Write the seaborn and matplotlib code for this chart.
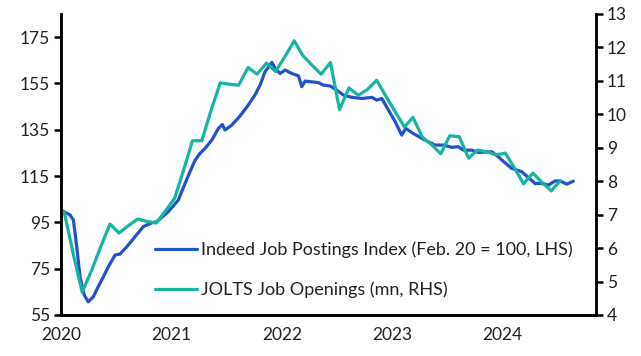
import pandas as pd
import seaborn as sns
import matplotlib.pyplot as plt
import matplotlib.dates as mdates

# Indeed job postings index (Feb. 20 = 100)
indeed_dates = [
    '2020-01-01', '2020-01-31', '2020-02-11', '2020-02-22', '2020-03-04', '2020-03-18',
    '2020-03-31', '2020-04-17', '2020-05-03', '2020-05-20', '2020-06-06', '2020-06-28',
    '2020-07-14', '2020-08-06', '2020-09-02', '2020-09-29', '2020-10-27', '2020-11-13',
    '2020-12-21', '2021-01-23', '2021-02-15', '2021-03-03', '2021-03-20', '2021-04-05',
    '2021-04-22', '2021-05-14', '2021-06-05', '2021-06-18', '2021-06-27', '2021-07-19',
    '2021-08-16', '2021-09-12', '2021-10-04', '2021-10-21', '2021-11-06', '2021-11-29',
    '2021-12-10', '2021-12-26', '2022-01-12', '2022-02-03', '2022-02-25', '2022-03-08',
    '2022-03-19', '2022-04-10', '2022-05-02', '2022-05-18', '2022-06-10', '2022-07-02',
    '2022-07-24', '2022-08-21', '2022-09-23', '2022-10-26', '2022-11-11', '2022-11-28',
    '2022-12-20', '2023-01-11', '2023-02-02', '2023-02-15', '2023-03-12', '2023-04-09',
    '2023-05-01', '2023-05-23', '2023-06-20', '2023-07-18', '2023-08-08', '2023-08-25',
    '2023-09-22', '2023-10-14', '2023-11-27', '2023-12-19', '2024-01-10', '2024-02-01',
    '2024-03-05', '2024-03-27', '2024-04-18', '2024-05-11', '2024-06-01', '2024-06-24',
    '2024-07-10', '2024-08-01', '2024-08-23',
]
indeed_values = [
    100.3, 98.2, 96.0, 84.5, 71.5, 63.6,
    60.7, 62.9, 67.2, 71.5, 75.9, 80.9,
    81.3, 84.5, 88.8, 93.1, 94.8, 95.3,
    99.6, 104.6, 111.9, 116.9, 121.9, 124.8,
    127.0, 130.5, 135.6, 137.3, 134.9, 137.0,
    141.0, 145.7, 150.0, 154.3, 160.0, 164.1,
    161.5, 159.3, 160.8, 159.3, 158.3, 153.6,
    156.0, 155.7, 155.4, 154.3, 153.9, 152.1,
    150.0, 149.0, 148.5, 149.0, 147.8, 148.5,
    143.5, 138.5, 132.7, 135.6, 133.4, 131.3,
    129.8, 128.4, 128.4, 127.4, 127.7, 126.2,
    126.2, 125.2, 125.5, 123.3, 120.7, 118.3,
    116.9, 114.4, 111.8, 111.8, 111.1, 112.9,
    112.9, 111.5, 112.8,
]

# JOLTS job openings (mn), monthly
jolts_months = pd.date_range('2019-12-01', '2024-07-01', freq='MS') + pd.Timedelta(days=10)
jolts_values = [
    7.20,
    7.10, 5.80, 4.68, 5.33, 6.03, 6.72, 6.45, 6.67, 6.87, 6.80, 6.75, 7.10,
    7.49, 8.37, 9.21, 9.21, 10.10, 10.94, 10.90, 10.87, 11.40, 11.20, 11.53, 11.28,
    11.72, 12.20, 11.76, 11.47, 11.20, 11.55, 10.14, 10.79, 10.57, 10.74, 11.02, 10.55,
    10.08, 9.62, 9.91, 9.32, 9.10, 8.82, 9.36, 9.33, 8.69, 8.93, 8.88, 8.79,
    8.84, 8.38, 7.92, 8.24, 7.97, 7.71, 8.02,
]

indeed = pd.DataFrame({'date': pd.to_datetime(indeed_dates), 'value': indeed_values})
jolts = pd.DataFrame({'date': jolts_months, 'value': jolts_values})

sns.set_theme(style='white')
plt.rcParams['font.family'] = ['Lato', 'DejaVu Sans']

blue = '#2152cc'
teal = '#17b4a2'

fig = plt.figure(figsize=(6.41, 3.56), dpi=100)
ax = fig.add_axes([0.0952, 0.1152, 0.8346, 0.8455])
ax2 = ax.twinx()

sns.lineplot(data=indeed, x='date', y='value', ax=ax, color=blue, linewidth=2.3,
             label='Indeed Job Postings Index (Feb. 20 = 100, LHS)', legend=False)
sns.lineplot(data=jolts, x='date', y='value', ax=ax2, color=teal, linewidth=2.3,
             label='JOLTS Job Openings (mn, RHS)', legend=False)

ax.set_xlim(pd.Timestamp('2020-01-01'), pd.Timestamp('2024-11-06'))
ax.set_ylim(55, 185)
ax.set_yticks(range(55, 176, 20))
ax2.set_ylim(4, 13)
ax2.set_yticks(range(4, 14))

ax.xaxis.set_major_locator(mdates.YearLocator())
ax.xaxis.set_major_formatter(mdates.DateFormatter('%Y'))
ax.set_xlabel('')
ax.set_ylabel('')
ax2.set_ylabel('')

for a in (ax, ax2):
    a.spines['top'].set_visible(False)
    for s in ('left', 'right', 'bottom'):
        a.spines[s].set_linewidth(1.8)
        a.spines[s].set_color('black')
    a.tick_params(length=5, width=1.8, color='black', labelsize=12.5, labelcolor='#222222', pad=3)
    a.grid(False)
ax.tick_params(axis='x', pad=4)

h1, l1 = ax.get_legend_handles_labels()
h2, l2 = ax2.get_legend_handles_labels()
ax2.legend(h1 + h2, l1 + l2, loc='lower left', bbox_to_anchor=(0.1757, 0.055),
           frameon=False, fontsize=13, handlelength=2.3, handletextpad=0.25,
           labelspacing=1.3, borderpad=0, borderaxespad=0, labelcolor='#222222')

fig.savefig('out.png', dpi=100)
